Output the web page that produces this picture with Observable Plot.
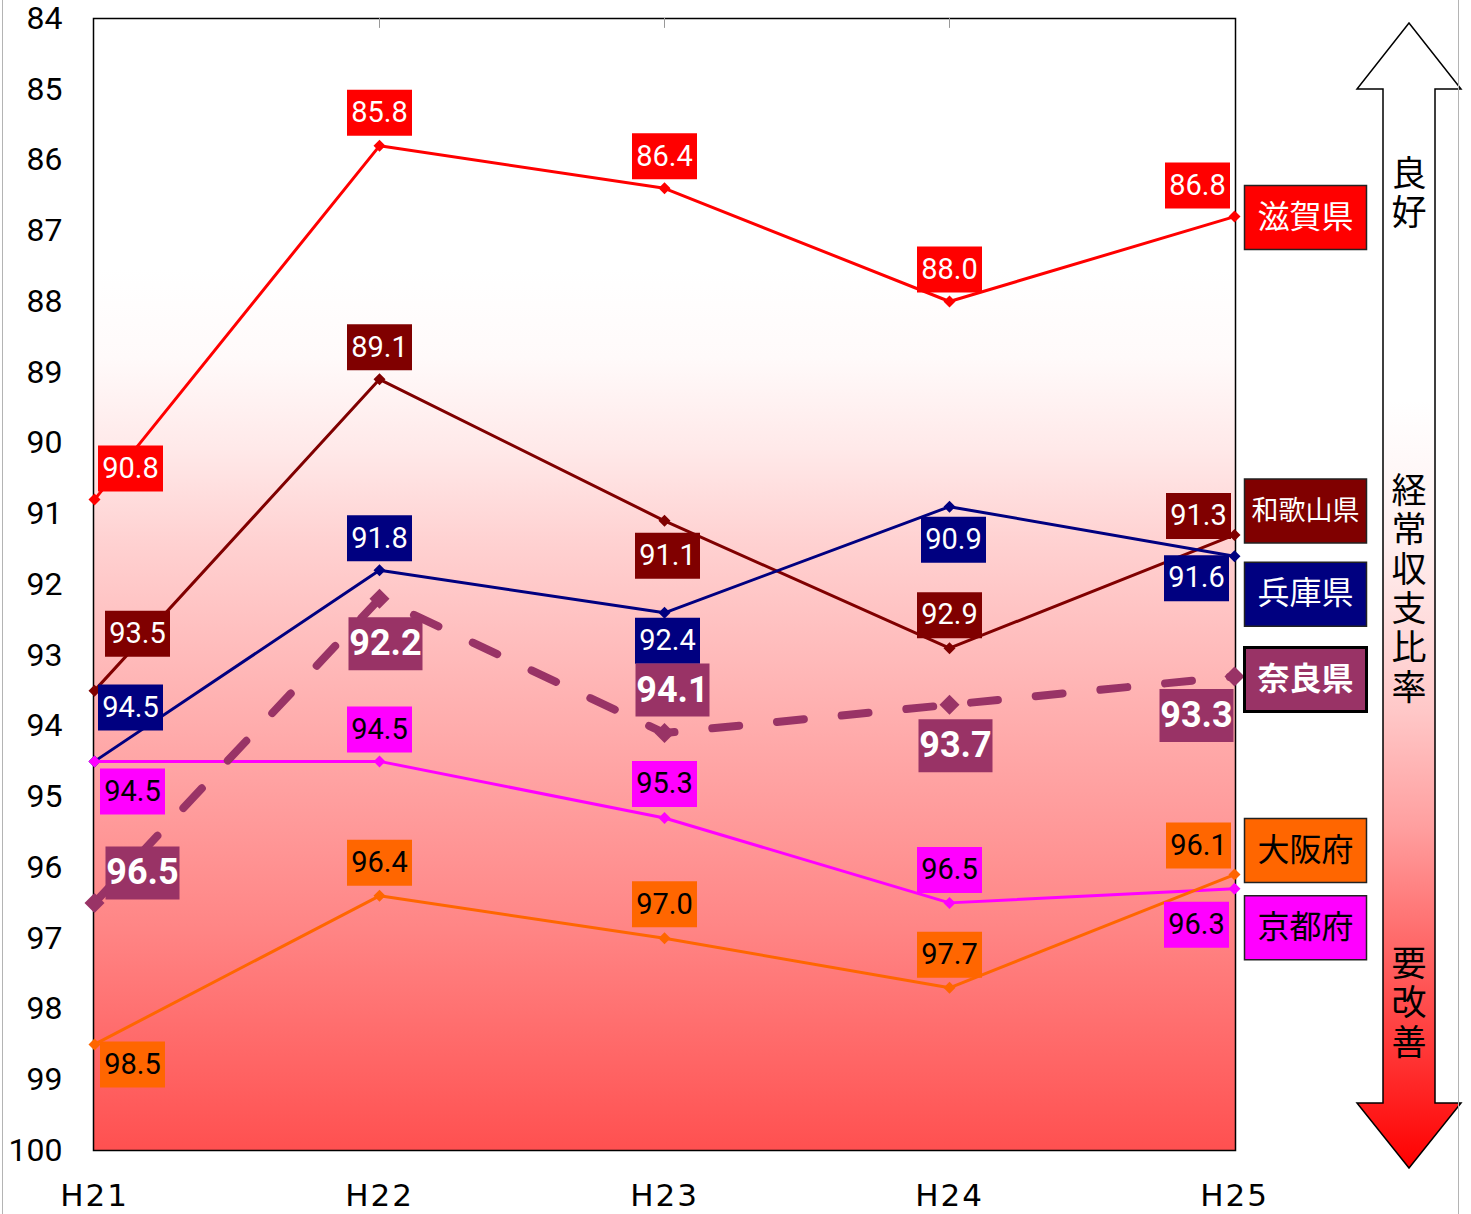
<!DOCTYPE html>
<html>
<head>
<meta charset="utf-8">
<script src="https://cdn.jsdelivr.net/npm/d3@7"></script>
<script src="https://cdn.jsdelivr.net/npm/@observablehq/plot@0.6"></script>
<style>
  body { margin: 0; background: #fff; }
  #wrap { position: relative; width: 1471px; height: 1214px; overflow: hidden; }
  g[aria-label="value label"] text { letter-spacing: -1px; }
  g[aria-label="nara label"] text { letter-spacing: -1px; }
  g[aria-label="x-axis tick label"] text { letter-spacing: 2px; }
</style>
</head>
<body>
<div id="wrap"></div>
<script>
// ---- data ----
const years = ["H21", "H22", "H23", "H24", "H25"];
const prefectures = ["滋賀県", "和歌山県", "兵庫県", "京都府", "大阪府", "奈良県"];
const shiga    = [90.8, 85.8, 86.4, 88.0, 86.8];
const wakayama = [93.5, 89.1, 91.1, 92.9, 91.3];
const hyogo    = [94.5, 91.8, 92.4, 90.9, 91.6];
const kyoto    = [94.5, 94.5, 95.3, 96.5, 96.3];
const osaka    = [98.5, 96.4, 97.0, 97.7, 96.1];
const nara     = [96.5, 92.2, 94.1, 93.7, 93.3];
const yTicks = [84, 85, 86, 87, 88, 89, 90, 91, 92, 93, 94, 95, 96, 97, 98, 99, 100];
const arrowTop = "良好";
const arrowMid = "経常収支比率";
const arrowBottom = "要改善";

// ---- styles ----
const seriesValues = [shiga, wakayama, hyogo, kyoto, osaka, nara];
const colors = ["#ff0000", "#800000", "#000080", "#ff00ff", "#ff6600", "#993366"];
const textColors = ["#ffffff", "#ffffff", "#ffffff", "#000000", "#000000", "#ffffff"];
// label offsets (px) from each point
const offShiga    = [[36, -31], [0, -33], [0, -32], [0, -32], [-37, -31]];
const offWakayama = [[43, -57], [0, -32], [3, 35], [0, -33], [-36, -19]];
const offHyogo    = [[36, -54], [0, -32], [3, 28], [4, 33], [-38, 22]];
const offKyoto    = [[38, 30], [0, -32], [0, -34], [0, -33], [-38, 36]];
const offOsaka    = [[38, 20], [0, -33], [0, -34], [0, -33], [-36, -29]];
const offNara     = [[48, -30], [6, 45], [8, -43], [6, 41], [-38, 39]];
const labelOffsets = [offShiga, offWakayama, offHyogo, offKyoto, offOsaka, offNara];
const legendDy = [1, -24, 38, 39, -24, 3];

const rows = [];
prefectures.forEach((p, s) => {
  seriesValues[s].forEach((v, i) => {
    rows.push({pref: p, s, year: years[i], value: v, color: colors[s], tcolor: textColors[s],
               dx: labelOffsets[s][i][0], dy: labelOffsets[s][i][1]});
  });
});

const boxSymbol = (w, h) => ({draw(ctx) { ctx.rect(-w / 2, -h / 2, w, h); }});
const diamondSymbol = (r) => ({draw(ctx) { ctx.moveTo(0, -r); ctx.lineTo(r, 0); ctx.lineTo(0, r); ctx.lineTo(-r, 0); ctx.closePath(); }});

const marks = [];
marks.push(Plot.frame({fill: "url(#bgGrad)", stroke: "#000", strokeWidth: 1.5}));
marks.push(Plot.ruleX(years.slice(1, 4), {y1: 84, y2: 84.14, stroke: "#999", strokeWidth: 1}));
marks.push(Plot.axisY({ticks: yTicks, tickSize: 0, tickPadding: 31, fontSize: 32, fontFamily: "Roboto", label: null, tickFormat: d => String(d), fill: "#000"}));
marks.push(Plot.axisX({tickSize: 0, tickPadding: 33, fontSize: 31, fontFamily: "DejaVu Sans", label: null, fill: "#000"}));

// lines
prefectures.forEach((p, s) => {
  const data = rows.filter(d => d.s === s);
  if (p === "奈良県") {
    marks.push(Plot.line(data, {x: "year", y: "value", stroke: colors[s], strokeWidth: 8, strokeDasharray: "27,38", strokeLinecap: "round"}));
    marks.push(Plot.dot(data, {x: "year", y: "value", fill: colors[s], stroke: "none", symbol: diamondSymbol(10)}));
  } else {
    marks.push(Plot.line(data, {x: "year", y: "value", stroke: colors[s], strokeWidth: 3}));
    marks.push(Plot.dot(data, {x: "year", y: "value", fill: colors[s], stroke: "none", symbol: diamondSymbol(6)}));
  }
});

// value labels
rows.forEach(d => {
  const isNara = d.pref === "奈良県";
  marks.push(Plot.dot([d], {x: "year", y: "value", dx: d.dx, dy: d.dy, fill: d.color, stroke: "none",
    symbol: isNara ? boxSymbol(74, 53) : boxSymbol(65, 46)}));
  marks.push(Plot.text([d], {x: "year", y: "value", dx: d.dx, dy: d.dy, text: r => r.value.toFixed(1),
    fill: d.tcolor, fontSize: isNara ? 36 : 29, fontWeight: isNara ? "bold" : "normal", fontFamily: "Roboto",
    lineAnchor: "middle", textAnchor: "middle", ariaLabel: isNara ? "nara label" : "value label"}));
});

// legend boxes at the end of each series
prefectures.forEach((p, s) => {
  const last = rows.filter(d => d.s === s)[years.length - 1];
  const isNara = p === "奈良県";
  marks.push(Plot.dot([last], {x: "year", y: "value", dx: 71, dy: legendDy[s], fill: colors[s],
    stroke: isNara ? "#000" : "#222", strokeWidth: isNara ? 3 : 1.5, symbol: boxSymbol(122, 64)}));
  marks.push(Plot.text([last], {x: "year", y: "value", dx: 71, dy: legendDy[s], text: "pref",
    fill: textColors[s], fontSize: p.length > 3 ? 27 : 32, fontWeight: isNara ? "bold" : "normal",
    fontFamily: "Noto Sans CJK JP", lineAnchor: "middle", ariaLabel: "legend"}));
});

const chart = Plot.plot({
  width: 1471,
  height: 1214,
  marginLeft: 93,
  marginRight: 236,
  marginTop: 18,
  marginBottom: 64,
  x: {type: "point", domain: years, padding: 0},
  y: {domain: [84, 100], reverse: true},
  style: {background: "transparent", overflow: "visible", color: "#000"},
  marks
});

document.getElementById("wrap").appendChild(chart);

// gradients + decorative arrow
const svg = d3.select(chart);
const defs = svg.insert("defs", ":first-child");
const bg = defs.append("linearGradient").attr("id", "bgGrad").attr("x1", 0).attr("y1", 0).attr("x2", 0).attr("y2", 1);
[[0, "#ffffff"], [0.22, "#ffffff"], [0.3, "#fffafa"], [0.38, "#ffe9e9"], [0.46, "#ffd2d2"],
 [0.6, "#ffb2b2"], [0.8, "#ff8686"], [1, "#ff5050"]].forEach(([o, c]) => bg.append("stop").attr("offset", o).attr("stop-color", c));
const ag = defs.append("linearGradient").attr("id", "arrowGrad").attr("x1", 0).attr("y1", 0).attr("x2", 0).attr("y2", 1);
[[0, "#ffffff"], [0.33, "#ffffff"], [0.45, "#fff0f0"], [0.6, "#ffc8c8"], [0.7, "#ffa0a0"], [1, "#ff0000"]].forEach(([o, c]) => ag.append("stop").attr("offset", o).attr("stop-color", c));

const deco = svg.append("g").attr("aria-label", "arrow");
const pts = [[1409, 23], [1461, 89], [1435, 89], [1435, 1103], [1461, 1103], [1409, 1168], [1357, 1103], [1383, 1103], [1383, 89], [1357, 89]];
deco.append("path").attr("d", "M" + pts.map(p => p.join(",")).join("L") + "Z")
  .attr("fill", "url(#arrowGrad)").attr("stroke", "#000").attr("stroke-width", 1.5);
const addVertical = (str, yTop) => {
  deco.append("text").attr("x", 1409).attr("y", yTop)
    .attr("writing-mode", "vertical-rl").attr("text-anchor", "start")
    .attr("font-family", "Noto Sans CJK JP").attr("font-size", 35)
    .attr("letter-spacing", "4.4px")
    .attr("fill", "#000").text(str);
};
addVertical(arrowTop, 155);
addVertical(arrowMid, 472);
addVertical(arrowBottom, 945);

// page border lines
svg.append("line").attr("x1", 2.5).attr("x2", 2.5).attr("y1", 0).attr("y2", 1214).attr("stroke", "#b4b4b4");
svg.append("line").attr("x1", 1458.5).attr("x2", 1458.5).attr("y1", 0).attr("y2", 1214).attr("stroke", "#b4b4b4");
</script>
</body>
</html>
